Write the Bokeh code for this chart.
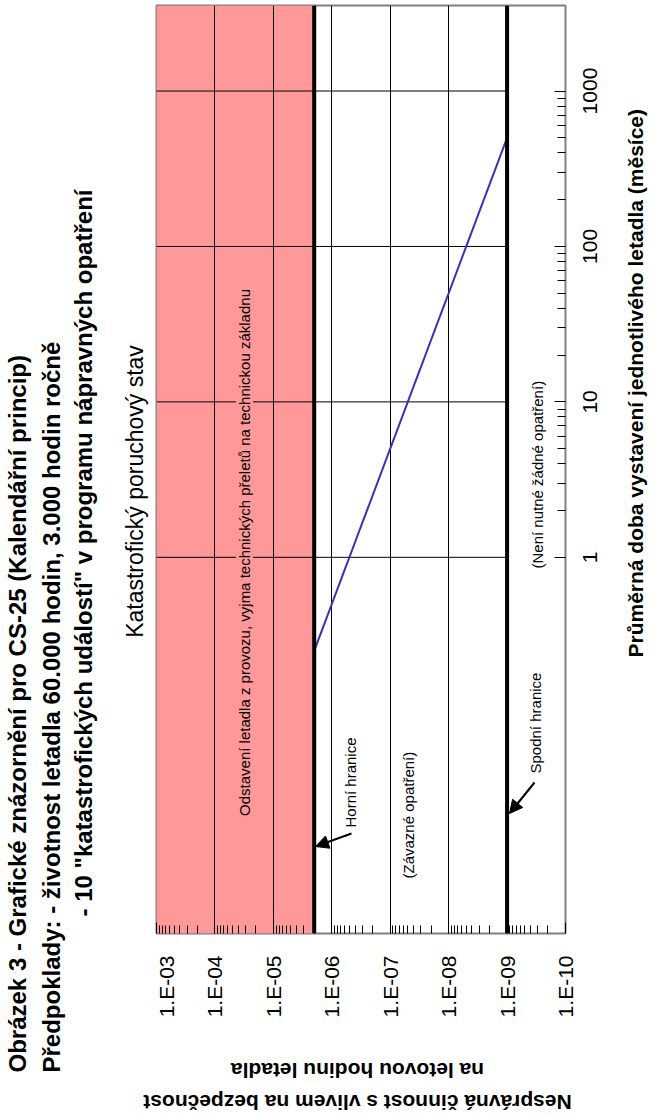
import math
from bokeh.plotting import figure
from bokeh.layouts import row, column
from bokeh.core.properties import value
from bokeh.models import (Range1d, FixedTicker, CustomJSTickFormatter, Label, Span,
                          BoxAnnotation, Arrow, NormalHead)
from bokeh.embed import file_html
from bokeh.resources import INLINE

# ---------------- data ----------------
prob_ticks = [1e-3, 1e-4, 1e-5, 1e-6, 1e-7, 1e-8, 1e-9, 1e-10]
month_ticks = [1, 10, 100, 1000]
month_labels = ["1", "10", "100", "1000"]
upper_limit = 2e-6          # Horní hranice
lower_limit = 1e-9          # Spodní hranice
line_prob = [2e-6, 1e-9]    # blue line (rate per flight hour)
line_months = [0.25, 500]   # blue line (months)
prob_range = (1e-3, 1e-10)
month_range = (0.0038, 3550)

title1 = "Obrázek 3 - Grafické znázornění pro CS-25 (Kalendářní princip)"
title2 = "Předpoklady: - životnost letadla 60.000 hodin, 3.000 hodin ročně"
title3 = "- 10 \"katastrofických událostí\" v programu nápravných opatření"
subtitle = "Katastrofický poruchový stav"
y_label = "Průměrná doba vystavení jednotlivého letadla (měsíce)"
x_label1 = "Nesprávná činnost s vlivem na bezpečnost"
x_label2 = "na letovou hodinu letadla"
txt_grounded = "Odstavení letadla z provozu, vyjma technických přeletů na technickou základnu"
txt_upper = "Horní hranice"
txt_binding = "(Závazné opatření)"
txt_lower = "Spodní hranice"
txt_none = "(Není nutné žádné opatření)"

FONT = "Liberation Sans"
PINK = "#FF9999"
BLUE = "#3535B0"

minor_prob = [k * 10.0 ** e for e in range(-10, -3) for k in range(2, 10)]
minor_months = [k * 10.0 ** e for e in range(0, 3) for k in range(2, 10)]

# ---------------- layout (canvas px) ----------------
W, H = 649, 1117
LEFT_W = 154                  # left text strip width
FL, FR, FT, FB = 156, 565, 5, 933   # plot frame edges
RIGHT_X = 577                 # start of right strip
TOP_H = 1085                  # height of the upper row
MAIN_H = 1050                 # main figure height
MAIN_W = RIGHT_X - LEFT_W
RIGHT_W = W - RIGHT_X


def text_fig(w, h):
    f = figure(width=w, height=h, x_range=Range1d(0, w), y_range=Range1d(0, h),
               output_backend="svg", toolbar_location=None,
               x_axis_location=None, y_axis_location=None,
               min_border=0, frame_align=False)
    f.outline_line_color = None
    f.grid.visible = False
    f.background_fill_color = "white"
    f.border_fill_color = "white"
    return f


def lab(fig, text, x, y, size, bold=False, angle=math.pi / 2, align="left", bg=None):
    fig.add_layout(Label(x=x, y=y, x_units="screen", y_units="screen",
                         text=text, angle=angle, text_align=align, text_baseline="middle",
                         text_font=FONT, text_font_size=f"{size}px",
                         text_font_style="bold" if bold else "normal", text_color="black",
                         background_fill_color=bg))


# ---------------- main chart ----------------
p = figure(width=MAIN_W, height=MAIN_H, x_axis_type="log", y_axis_type="log",
           x_range=Range1d(*prob_range), y_range=Range1d(*month_range),
           y_axis_location="right", output_backend="svg", toolbar_location=None,
           min_border_left=FL - LEFT_W, min_border_right=RIGHT_X - FR, min_border_top=FT,
           min_border_bottom=MAIN_H - FB, frame_align=False)
p.background_fill_color = "white"
p.border_fill_color = "white"
p.outline_line_color = "#808080"
p.outline_line_width = 2

p.add_layout(BoxAnnotation(left=prob_range[0], right=upper_limit, fill_color=PINK,
                           fill_alpha=1.0, line_color=None, level="image"))

p.xgrid.ticker = FixedTicker(ticks=prob_ticks[1:-1])
p.xgrid.grid_line_color = "black"
p.xgrid.grid_line_width = 1
p.ygrid.grid_line_color = None
p.segment(x0=[prob_range[0]] * len(month_ticks), x1=[lower_limit] * len(month_ticks),
          y0=month_ticks, y1=month_ticks, line_color="black", line_width=1)

for loc in (upper_limit, lower_limit):
    p.add_layout(Span(location=loc, dimension="height", line_color="black", line_width=4))

p.line(line_prob, line_months, line_color=BLUE, line_width=2)

xa = p.xaxis[0]
xa.ticker = FixedTicker(ticks=prob_ticks, minor_ticks=minor_prob)
xa.formatter = CustomJSTickFormatter(code="""
const e = Math.round(Math.log10(tick));
const a = Math.abs(e);
return "1.E" + (e < 0 ? "-" : "+") + (a < 10 ? "0" : "") + a;
""")
xa.major_label_orientation = math.pi / 2
xa.major_label_text_font = FONT
xa.major_label_text_font_size = "21px"
xa.major_label_text_color = "black"
xa.major_label_standoff = 22

ya = p.yaxis[0]
ya.ticker = FixedTicker(ticks=month_ticks, minor_ticks=minor_months)
ya.formatter = CustomJSTickFormatter(code="return '';")
ya.major_label_text_font_size = "0px"
ya.major_label_standoff = 0

for ax in (xa, ya):
    ax.axis_line_color = None
    ax.major_tick_in = 11
    ax.major_tick_out = 0
    ax.minor_tick_in = 8
    ax.minor_tick_out = 0
    ax.major_tick_line_color = "black"
    ax.minor_tick_line_color = "black"


def plab(text, cx, cy, size, **kw):
    lab(p, text, cx - FL, FB - cy, size, **kw)


plab(txt_grounded, 244, 552, 15, align="center", bg=PINK)
plab(txt_upper, 350, 827, 15)
plab(txt_binding, 408, 878, 15)
plab(txt_lower, 535, 773, 15)
plab(txt_none, 537, 568, 15)

for (x0, y0, x1, y1) in ((351, 833, 315, 846), (534, 782, 509, 813)):
    p.add_layout(Arrow(x_start=x0 - FL, y_start=FB - y0, x_end=x1 - FL, y_end=FB - y1,
                       start_units="screen", end_units="screen", line_color="black",
                       line_width=2, end=NormalHead(size=13, fill_color="black",
                                                    line_color="black")))

# ---------------- left strip: titles ----------------
left = text_fig(LEFT_W, TOP_H)
lab(left, title1, 17, TOP_H - 1072, 24, bold=True)
lab(left, title2, 51, TOP_H - 1072, 24, bold=True)
lab(left, title3, 83, TOP_H - 916, 24, bold=True)
lab(left, subtitle, 134, TOP_H - 491, 23, align="center")

# ---------------- bottom strips: upside-down axis title ----------------
bottom2 = text_fig(MAIN_W, TOP_H - MAIN_H)
lab(bottom2, x_label2, 357 - LEFT_W, TOP_H - 1070, 21, bold=True, angle=math.pi, align="center")
bottom1 = text_fig(W, H - TOP_H)
lab(bottom1, x_label1, 357, H - 1102, 21, bold=True, angle=math.pi, align="center")

# ---------------- right strip: month tick labels and axis title ----------------
right = figure(width=RIGHT_W, height=TOP_H, x_range=Range1d(0, RIGHT_W), y_range=p.y_range,
               y_axis_type="log", output_backend="svg", toolbar_location=None,
               x_axis_location=None, y_axis_location=None,
               min_border_left=0, min_border_right=0, min_border_top=FT,
               min_border_bottom=TOP_H - FB, frame_align=False)
right.outline_line_color = None
right.grid.visible = False
right.text(x=[589 - RIGHT_X] * len(month_ticks), y=month_ticks, text=month_labels,
           angle=math.pi / 2, text_align="center", text_baseline="middle",
           text_font=value(FONT), text_font_size=value("21px"), text_color="black")
lab(right, y_label, 635 - RIGHT_X, FB - 657, 21, bold=True)

layout = column(
    row(left, column(p, bottom2, spacing=0), right, spacing=0),
    bottom1,
    spacing=0,
)
open("out.html", "w").write(file_html(layout, INLINE))
